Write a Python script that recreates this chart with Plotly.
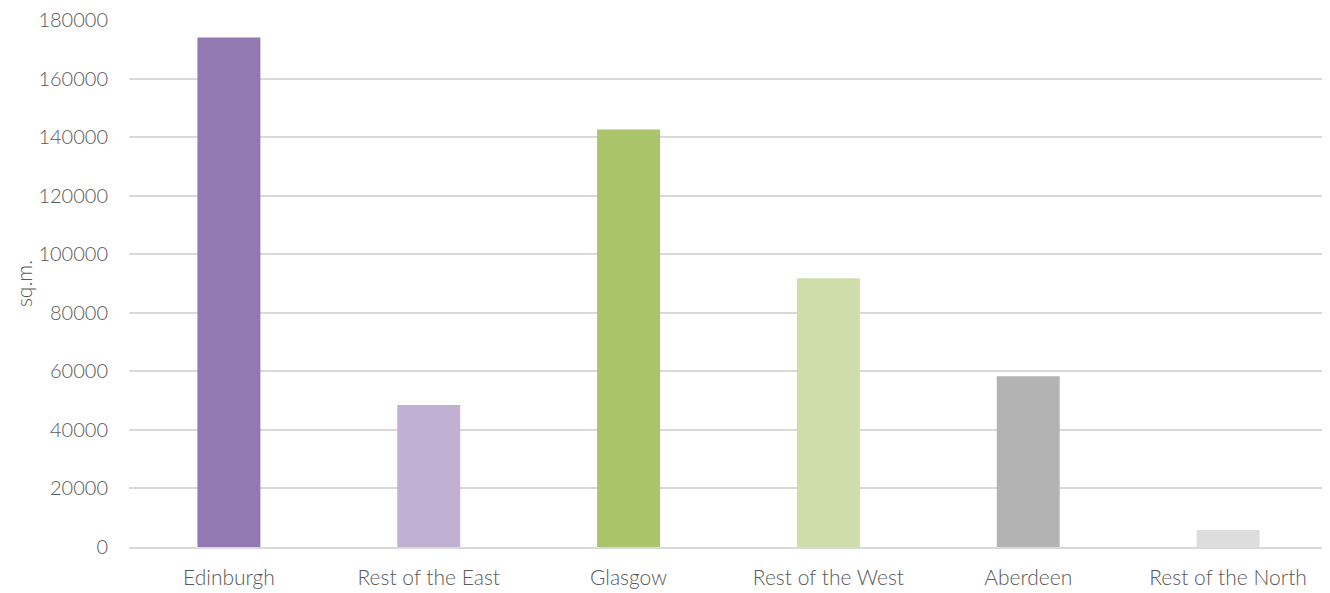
import plotly.graph_objects as go

categories = ["Edinburgh", "Rest of the East", "Glasgow", "Rest of the West", "Aberdeen", "Rest of the North"]
values = [174000, 48500, 142600, 91800, 58300, 5800]
colors = ["#9279B1", "#C0B1D2", "#A9C46A", "#CFDDAB", "#B3B3B3", "#DDDDDD"]
y_ticks = [0, 20000, 40000, 60000, 80000, 100000, 120000, 140000, 160000, 180000]

fig = go.Figure(go.Bar(x=categories, y=values, marker=dict(color=colors, line=dict(width=0))))

font = dict(family="Lato, 'Open Sans', sans-serif", size=20, color="#595959", weight=300)
xfont = dict(family="Lato, 'Open Sans', sans-serif", size=21, color="#595959", weight=300)
fig.update_layout(
    width=1322, height=585,
    margin=dict(l=121, r=2, t=12, b=46),
    paper_bgcolor="white", plot_bgcolor="white",
    bargap=0.685,
    font=font,
    showlegend=False,
    xaxis=dict(showline=True, linecolor="#D9D9D9", linewidth=2, ticks="", tickfont=xfont,
               ticklabelstandoff=11, automargin=False, ticklabeloverflow="allow"),
    yaxis=dict(range=[0, 180000], tickvals=y_ticks, ticktext=[str(v) for v in y_ticks],
               showgrid=True, gridcolor="#D9D9D9", gridwidth=2, zeroline=False,
               tickfont=font, ticklabelstandoff=20, automargin=False, ticklabeloverflow="allow",
               title=dict(text="sq.m.", font=dict(family="Lato, sans-serif", size=21, color="#595959", weight=300), standoff=0)),
)
fig.write_html("out.html")
